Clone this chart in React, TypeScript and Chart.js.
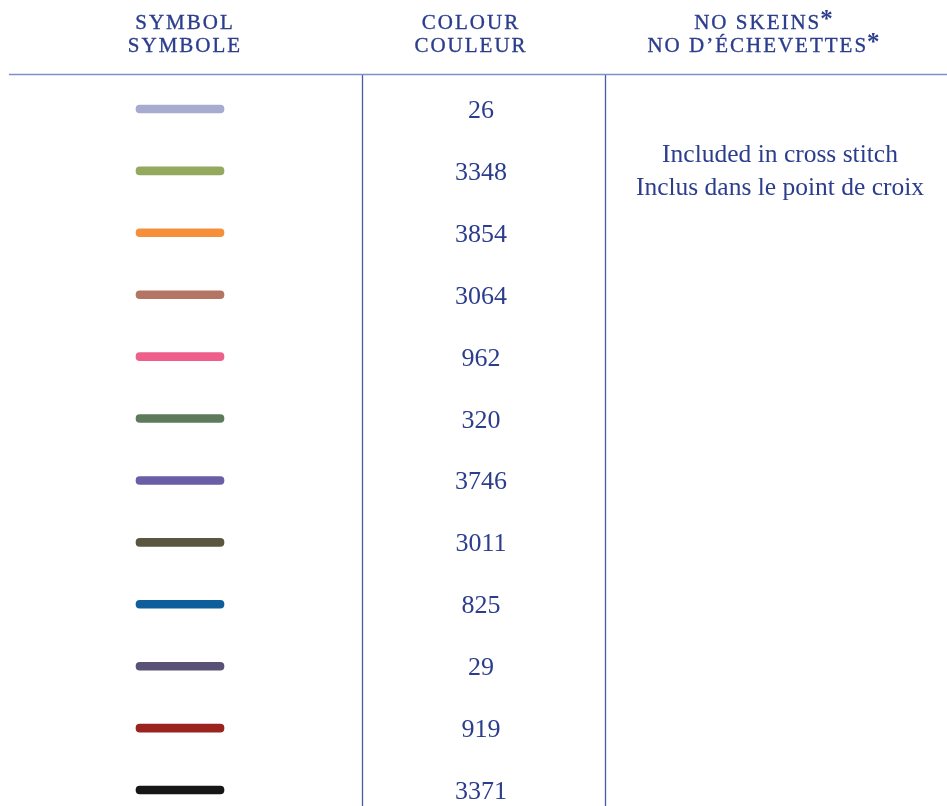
import React, { useEffect, useRef } from "react";
import { Chart, registerables } from "chart.js";

Chart.register(...registerables);

// ---- data ----
const CODES = ["26", "3348", "3854", "3064", "962", "320", "3746", "3011", "825", "29", "919", "3371"];
const SYMBOL_COLOURS = [
  "#a6abcf", "#94a85e", "#f58f3a", "#b57565", "#ef5f8c", "#5d7a5c",
  "#6a5ea6", "#5b5640", "#0d5e9b", "#5a5276", "#9a2320", "#161616",
];
const HEADERS_EN = ["SYMBOL", "COLOUR", "NO SKEINS"];
const HEADERS_FR = ["SYMBOLE", "COULEUR", "NO D\u2019\u00c9CHEVETTES"];
const HEADER_STAR = [false, false, true];
const NOTE_LINES = ["Included in cross stitch", "Inclus dans le point de croix"];

// ---- layout (scale units = page pixels on x) ----
const SYMBOL_SPAN: [number, number] = [136, 224];
const COLUMN_CENTERS = [184, 470, 763];
const CODE_X = 481;
const NOTE_X = 780;
const DIVIDERS_X = [362, 605];
const INK = "#2b3d8c";
const FONT = "'Liberation Serif', 'DejaVu Serif', serif";

const tablePlugin = {
  id: "tableDecor",
  afterDraw(chart: any) {
    const ctx = chart.ctx as CanvasRenderingContext2D;
    const xs = chart.scales.x;
    const ys = chart.scales.y;
    const H = chart.height;
    ctx.save();

    // header rule
    ctx.strokeStyle = "#8090c8";
    ctx.lineWidth = 1.5;
    ctx.beginPath();
    ctx.moveTo(xs.getPixelForValue(9), 74.5);
    ctx.lineTo(xs.getPixelForValue(947), 74.5);
    ctx.stroke();

    // column dividers
    ctx.strokeStyle = "#4a5aa8";
    ctx.lineWidth = 1.3;
    DIVIDERS_X.forEach((v) => {
      const px = Math.round(xs.getPixelForValue(v)) + 0.5;
      ctx.beginPath();
      ctx.moveTo(px, 75);
      ctx.lineTo(px, H);
      ctx.stroke();
    });

    // headers
    ctx.fillStyle = INK;
    ctx.strokeStyle = INK;
    ctx.textBaseline = "alphabetic";
    ctx.textAlign = "left";
    const drawHeader = (text: string, cx: number, baseline: number, star: boolean) => {
      ctx.font = `21px ${FONT}`;
      (ctx as any).letterSpacing = "2px";
      const w = ctx.measureText(text).width - 2;
      let starW = 0;
      if (star) {
        ctx.font = `bold 25px ${FONT}`;
        (ctx as any).letterSpacing = "0px";
        starW = ctx.measureText("*").width;
      }
      const total = w + starW;
      const x0 = xs.getPixelForValue(cx) - total / 2;
      ctx.font = `21px ${FONT}`;
      (ctx as any).letterSpacing = "2px";
      ctx.lineWidth = 0.35;
      ctx.fillText(text, x0, baseline);
      ctx.strokeText(text, x0, baseline);
      if (star) {
        ctx.font = `bold 25px ${FONT}`;
        (ctx as any).letterSpacing = "0px";
        ctx.fillText("*", x0 + w + 1, baseline - 2);
      }
    };
    HEADERS_EN.forEach((t, i) => drawHeader(t, COLUMN_CENTERS[i], 29, HEADER_STAR[i]));
    HEADERS_FR.forEach((t, i) => drawHeader(t, COLUMN_CENTERS[i], 52, HEADER_STAR[i]));
    (ctx as any).letterSpacing = "0px";

    // colour codes
    ctx.font = `26px ${FONT}`;
    ctx.textAlign = "center";
    CODES.forEach((c, i) => {
      const py = ys.getPixelForValue(i);
      ctx.fillText(c, xs.getPixelForValue(CODE_X), py + 9);
    });

    // note
    ctx.font = `25.5px ${FONT}`;
    NOTE_LINES.forEach((t, i) => {
      ctx.fillText(t, xs.getPixelForValue(NOTE_X), 162 + i * 33);
    });

    ctx.restore();
  },
};

export default function App() {
  const ref = useRef<HTMLCanvasElement>(null);
  useEffect(() => {
    if (!ref.current) return;
    const chart = new Chart(ref.current, {
      type: "bar",
      data: {
        labels: CODES,
        datasets: [
          {
            data: CODES.map(() => SYMBOL_SPAN) as any,
            backgroundColor: SYMBOL_COLOURS,
            barThickness: 8,
            borderRadius: 4,
            borderSkipped: false,
          },
        ],
      },
      options: {
        indexAxis: "y",
        animation: false,
        responsive: false,
        devicePixelRatio: 1,
        layout: { padding: { top: 78, bottom: 9, left: 0, right: 0 } },
        plugins: { legend: { display: false }, tooltip: { enabled: false } },
        scales: {
          x: { type: "linear", min: 0, max: 947, display: false },
          y: { type: "category", display: false, offset: true, grid: { display: false } },
        },
      },
      plugins: [tablePlugin],
    });
    return () => chart.destroy();
  }, []);
  return (
    <div style={{ position: "absolute", left: 0, top: 0, width: 947, height: 806, overflow: "hidden", background: "#fff" }}>
      <canvas ref={ref} width={947} height={830} style={{ display: "block" }} />
    </div>
  );
}
